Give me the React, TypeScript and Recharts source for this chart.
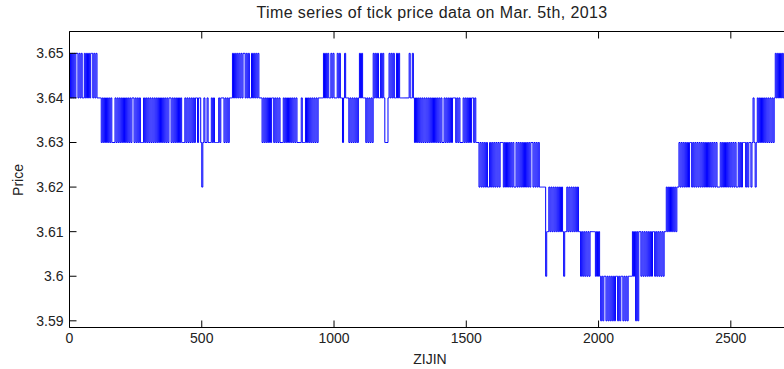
import { LineChart, Line, XAxis, YAxis } from "recharts";

// price levels, coded 0..6 in the tick strings below
const priceLevels = [3.59, 3.6, 3.61, 3.62, 3.63, 3.64, 3.65];
const xTicks = [0, 500, 1000, 1500, 2000, 2500];
const yTicks = [3.59, 3.6, 3.61, 3.62, 3.63, 3.64, 3.65];

// tick index spacing between samples in each run
const STEP = 4;

const runs: [number, string][] = [
  [0, "65656566565655656565665656" + "555"],
  [116, "54545454545" + "444" + "5454545454545454" + "55" + "454545" + "444" + "545454545454545454545454" + "55" + "4545454545" + "444" + "54545454"],
  [468, "54554554345445444545444454555454545"],
  [608, "55" + "65656565656656565565656565" + "55"],
  [728, "454545454554545454445454545454545" + "44445444" + "5454545"],
  [920, "45454" + "55555" + "656565" + "56565556565" + "5" + "4565" + "55" + "4545454545" + "6565" + "55" + "4545454" + "656565" + "5" + "656" + "5" + "444" + "5" + "656565" + "5656" + "555555555" + "6" + "55" + "6" + "545454545" + "45454545454545"],
  [1392, "4545" + "44" + "545454545" + "55" + "4545" + "444" + "54545454" + "55" + "454"],
  [1540, "44" + "34343434" + "33" + "4343434343" + "444" + "3434343434" + "33" + "43434343434343" + "44" + "343434" + "3" + "33333"],
  [1800, "1" + "22" + "3232323232323" + "2" + "1" + "22" + "323" + "2" + "32323232" + "2"],
  [1932, "12121" + "2" + "1212" + "2222" + "1212"],
  [2004, "1" + "0101" + "1" + "01010" + "1" + "0101" + "1" + "0101" + "1" + "01010" + "1111"],
  [2128, "2" + "1" + "20202" + "2"],
  [2160, "1212121212122121212121" + "22"],
  [2256, "32323232323" + "3"],
  [2304, "4343434343" + "44" + "3434343434343434343434343" + "33" + "4343434343434343" + "3" + "43434" + "44" + "3434" + "434"],
  [2584, "54345" + "454545454545454" + "5" + "656565656565656565"],
];

const data: { t: number; price: number }[] = [];
runs.forEach(([start, codes], i) => {
  const next = i + 1 < runs.length ? runs[i + 1][0] : Infinity;
  for (let k = 0; k < codes.length; k++) {
    const t = start + k * STEP;
    if (t >= next) break;
    data.push({ t, price: priceLevels[Number(codes[k])] });
  }
});

const font = '"Liberation Sans", Arial, Helvetica, sans-serif';
const textColor = "#222";

export default function App() {
  return (
    <div
      style={{
        position: "absolute",
        left: 0,
        top: 0,
        width: 784,
        height: 369,
        overflow: "hidden",
        background: "#fff",
        fontFamily: font,
      }}
    >
      <LineChart
        width={800}
        height={369}
        data={data}
        margin={{ top: 30.5, right: 5.7, bottom: 11.5, left: 0 }}
      >
        <XAxis
          dataKey="t"
          type="number"
          domain={[0, 2740]}
          ticks={xTicks}
          allowDataOverflow
          height={30}
          tickSize={-7}
          tickMargin={13}
          axisLine={{ stroke: "#000", strokeWidth: 1 }}
          tickLine={{ stroke: "#000" }}
          tick={{ fill: textColor, fontSize: 14, fontFamily: font }}
        />
        <XAxis
          xAxisId="top"
          orientation="top"
          dataKey="t"
          type="number"
          domain={[0, 2740]}
          ticks={xTicks}
          allowDataOverflow
          height={1}
          tickSize={-7}
          tickFormatter={() => ""}
          axisLine={{ stroke: "#000", strokeWidth: 1 }}
          tickLine={{ stroke: "#000" }}
        />
        <YAxis
          type="number"
          domain={[3.5885, 3.6549]}
          ticks={yTicks}
          allowDataOverflow
          width={69.5}
          tickSize={-7}
          tickMargin={13}
          tickFormatter={(v: number) => String(Number(v.toFixed(2)))}
          axisLine={{ stroke: "#000", strokeWidth: 1 }}
          tickLine={{ stroke: "#000" }}
          tick={{ fill: textColor, fontSize: 14, fontFamily: font }}
        />
        <Line
          type="stepAfter"
          dataKey="price"
          stroke="#0000ff"
          strokeWidth={1}
          dot={false}
          activeDot={false}
          isAnimationActive={false}
        />
      </LineChart>
      <svg
        width={784}
        height={369}
        style={{ position: "absolute", left: 0, top: 0, pointerEvents: "none" }}
      >
        <text
          x={432}
          y={18}
          textAnchor="middle"
          fontSize={16}
          letterSpacing={0.4}
          fill={textColor}
          fontFamily={font}
        >
          Time series of tick price data on Mar. 5th, 2013
        </text>
        <text x={430} y={364} textAnchor="middle" fontSize={14} fill={textColor} fontFamily={font}>
          ZIJIN
        </text>
        <text
          x={23}
          y={180}
          textAnchor="middle"
          fontSize={14}
          fill={textColor}
          fontFamily={font}
          transform="rotate(-90 23 180)"
        >
          Price
        </text>
      </svg>
    </div>
  );
}
